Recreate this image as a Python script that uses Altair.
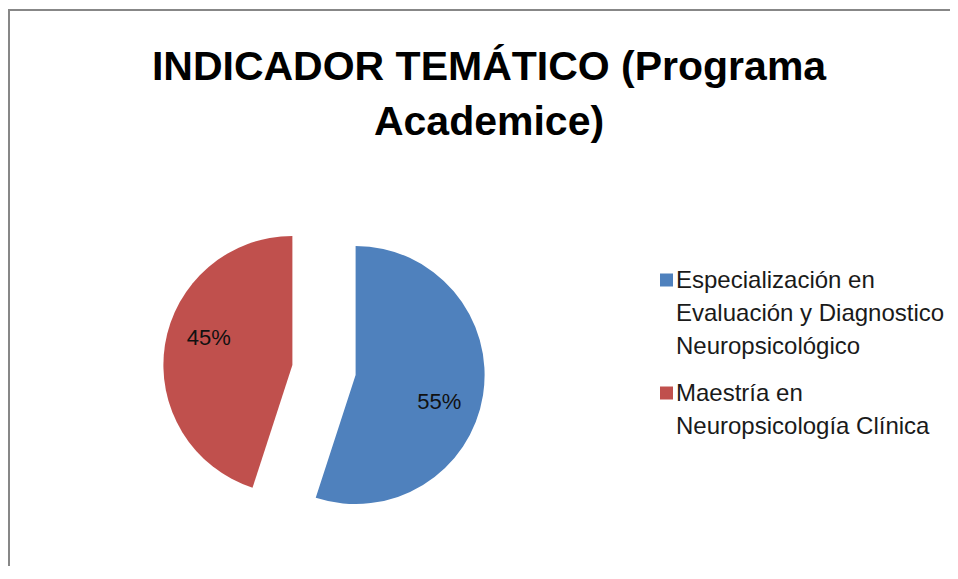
import altair as alt
import pandas as pd

# ---- data ----
categories = [
    "Especialización en Evaluación y Diagnostico Neuropsicológico",
    "Maestría en Neuropsicología Clínica",
]
legend_lines = [
    ["Especialización en", "Evaluación y Diagnostico", "Neuropsicológico"],
    ["Maestría en", "Neuropsicología Clínica"],
]
values = [55, 45]
pct_labels = ["55%", "45%"]
colors = ["#4F81BD", "#C0504D"]
title_lines = ["INDICADOR TEMÁTICO (Programa", "Academice)"]

# ---- layout (pixels, view coords = page - 8) ----
W, H = 942, 558
CX, CY = 316, 362          # pie centre
R = 129                    # pie radius
EXPLODE = 32               # explode distance of each slice
LR = 88                    # label distance from slice centre
LABEL_ROT = 0.157          # label angle shift (rad)
LEG_SQ_X, LEG_TX_X = 652, 668
LEG_Y0, LEG_LH, LEG_GAP = 280, 33, 14
TITLE_X, TITLE_Y = 481, 72
FONT = "Liberation Sans"

df = pd.DataFrame({"category": categories, "value": values,
                   "label": pct_labels, "order": list(range(len(values)))})

leg_rows = []
y = LEG_Y0
for cat, lines in zip(categories, legend_lines):
    leg_rows.append({"category": cat, "text": "\n".join(lines), "ty": y, "sy": y - 8})
    y += len(lines) * LEG_LH + LEG_GAP
leg_df = pd.DataFrame(leg_rows)

title_df = pd.DataFrame({"title": ["\n".join(title_lines)]})

color_scale = alt.Scale(domain=categories, range=colors)

base = (
    alt.Chart(df)
    .transform_window(cum="sum(value)", sort=[alt.SortField("order")])
    .transform_joinaggregate(total="sum(value)")
    .transform_calculate(
        start="(datum.cum - datum.value) / datum.total * 2 * PI",
        end="datum.cum / datum.total * 2 * PI",
    )
    .transform_calculate(mid="(datum.start + datum.end) / 2")
    .transform_calculate(
        cx=f"{CX} + {EXPLODE} * sin(datum.mid)",
        cy=f"{CY} - {EXPLODE} * cos(datum.mid)",
    )
    .transform_calculate(
        lx=f"datum.cx + {LR} * sin(datum.mid + {LABEL_ROT})",
        ly=f"datum.cy - {LR} * cos(datum.mid + {LABEL_ROT})",
    )
)

arcs = base.mark_arc(outerRadius=R).encode(
    theta=alt.Theta("start:Q", scale=None),
    theta2="end:Q",
    x=alt.X("cx:Q", scale=None, axis=None),
    y=alt.Y("cy:Q", scale=None, axis=None),
    color=alt.Color("category:N", scale=color_scale, legend=None),
)

labels = base.mark_text(font=FONT, fontSize=22, color="#111111", baseline="middle").encode(
    x=alt.X("lx:Q", scale=None, axis=None),
    y=alt.Y("ly:Q", scale=None, axis=None),
    text="label:N",
)

leg_sq = alt.Chart(leg_df).mark_square(size=169, opacity=1).encode(
    x=alt.value(LEG_SQ_X + 6.5),
    y=alt.Y("sy:Q", scale=None, axis=None),
    color=alt.Color("category:N", scale=color_scale, legend=None),
)

leg_tx = alt.Chart(leg_df).mark_text(
    font=FONT, fontSize=24, lineHeight=LEG_LH, lineBreak="\n",
    align="left", baseline="alphabetic", color="#1a1a1a",
).encode(
    x=alt.value(LEG_TX_X),
    y=alt.Y("ty:Q", scale=None, axis=None),
    text="text:N",
)

title = alt.Chart(title_df).mark_text(
    font=FONT, fontSize=41, fontWeight="bold", lineHeight=55, lineBreak="\n",
    align="center", baseline="alphabetic", color="#000000",
).encode(x=alt.value(TITLE_X), y=alt.value(TITLE_Y), text="title:N")

dummy = pd.DataFrame({"k": [0]})
rule_top = alt.Chart(dummy).mark_rule(color="#878787", strokeWidth=2).encode(
    x=alt.value(0), x2=alt.value(W), y=alt.value(2))
rule_left = alt.Chart(dummy).mark_rule(color="#878787", strokeWidth=2).encode(
    x=alt.value(1), y=alt.value(1), y2=alt.value(H))

chart = alt.layer(rule_top, rule_left, arcs, labels, leg_sq, leg_tx, title).properties(
    width=W, height=H,
    autosize=alt.AutoSizeParams(type="none"),
    padding={"left": 0, "top": 0, "right": 0, "bottom": 0},
    background="white",
).configure_view(stroke=None)

chart.save("out.html", embed_options={"renderer": "svg", "actions": False})
